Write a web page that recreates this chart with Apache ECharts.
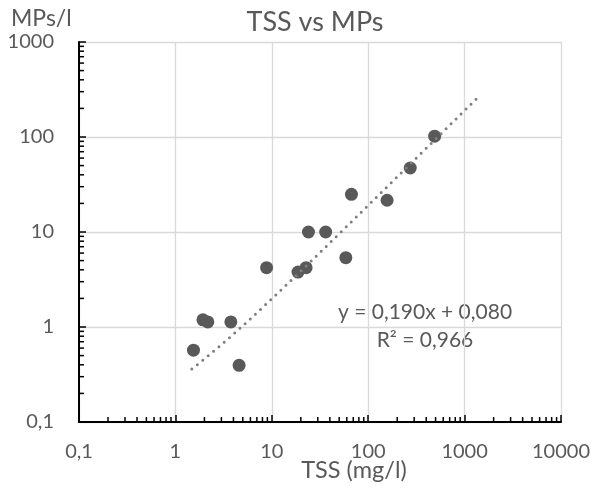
<!DOCTYPE html>
<html>
<head>
<meta charset="utf-8">
<script src="https://cdn.jsdelivr.net/npm/echarts@6/dist/echarts.min.js"></script>
<style>html,body{margin:0;padding:0;background:#fff}#c{width:593px;height:492px}</style>
</head>
<body>
<div id="c"></div>
<script>
// Data
const tss = [1.54, 1.93, 2.17, 3.76, 4.58, 8.83, 18.7, 22.7, 24.0, 36.2, 58.6, 67, 157, 273, 489];
const mps = [0.57, 1.19, 1.13, 1.13, 0.395, 4.21, 3.79, 4.21, 10, 10, 5.37, 24.9, 21.6, 47.2, 102];
// Linear trendline shown on the chart: y = 0,190x + 0,080 ; R² = 0,966
const trendSlope = 0.190;
const trendIntercept = 0.080;
const trendX = [1.48, 2, 3, 4, 5, 7, 10, 15, 20, 30, 50, 70, 100, 200, 300, 500, 700, 1000, 1450];
const xTickLabels = ['0,1', '1', '10', '100', '1000', '10000'];
const yTickLabels = ['0,1', '1', '10', '100', '1000'];
const xMin = 0.1, xMax = 10000, yMin = 0.1, yMax = 1000;
const minorMult = [2, 3, 4, 5, 6, 7, 8, 9];

const scatterData = tss.map((x, i) => [x, mps[i]]);
const trendData = trendX.map(x => [x, trendSlope * x + trendIntercept]);

const xMinor = [];
for (let e = xMin; e < xMax * 0.99; e *= 10) minorMult.forEach(m => xMinor.push([+(m * e).toPrecision(6), yMin]));
const yMinor = [];
for (let e = yMin; e < yMax * 0.99; e *= 10) minorMult.forEach(m => yMinor.push([xMin, +(m * e).toPrecision(6)]));

const fmt = v => String(+Number(v).toPrecision(6)).replace('.', ',');
const FONT = 'Lato';
const GREY = '#595959';

const chart = echarts.init(document.getElementById('c'), null, {renderer: 'canvas'});
chart.setOption({
  animation: false,
  backgroundColor: '#fff',
  grid: {left: 79, right: 32, top: 42, bottom: 70, containLabel: false},
  xAxis: {
    type: 'log', logBase: 10, min: xMin, max: xMax,
    axisLine: {show: true, onZero: false, lineStyle: {color: '#000', width: 2}},
    axisTick: {show: true, inside: true, length: 7, lineStyle: {color: '#000', width: 1.5}},
    axisLabel: {color: GREY, fontFamily: FONT, fontSize: 20, margin: 20, formatter: fmt},
    splitLine: {show: true, lineStyle: {color: '#d9d9d9', width: 1.3}}
  },
  yAxis: {
    type: 'log', logBase: 10, min: yMin, max: yMax,
    axisLine: {show: true, onZero: false, lineStyle: {color: '#000', width: 2}},
    axisTick: {show: true, inside: true, length: 7, lineStyle: {color: '#000', width: 1.5}},
    axisLabel: {color: GREY, fontFamily: FONT, fontSize: 20, margin: 25, formatter: fmt},
    splitLine: {show: true, lineStyle: {color: '#d9d9d9', width: 1.3}}
  },
  graphic: [
    {type: 'text', style: {text: 'TSS vs MPs', x: 315, y: 22, align: 'center', verticalAlign: 'middle', fill: GREY, font: '27px ' + FONT}},
    {type: 'text', style: {text: 'MPs/l', x: 11, y: 19, align: 'left', verticalAlign: 'middle', fill: GREY, font: '23px ' + FONT}},
    {type: 'text', style: {text: 'TSS (mg/l)', x: 354, y: 470, align: 'center', verticalAlign: 'middle', fill: GREY, font: '23.5px ' + FONT}},
    {type: 'text', style: {text: 'y = 0,190x + 0,080', x: 425, y: 312, align: 'center', verticalAlign: 'middle', fill: GREY, font: '21px ' + FONT}},
    {type: 'text', style: {text: 'R² = 0,966', x: 425, y: 340, align: 'center', verticalAlign: 'middle', fill: GREY, font: '21px ' + FONT}}
  ],
  series: [
    {
      type: 'custom', silent: true, data: xMinor, z: 5,
      renderItem: (params, api) => {
        const p = api.coord([api.value(0), api.value(1)]);
        return {type: 'line', shape: {x1: p[0], y1: p[1], x2: p[0], y2: p[1] - 5}, style: {stroke: '#000', lineWidth: 1.5}};
      }
    },
    {
      type: 'custom', silent: true, data: yMinor, z: 5,
      renderItem: (params, api) => {
        const p = api.coord([api.value(0), api.value(1)]);
        return {type: 'line', shape: {x1: p[0], y1: p[1], x2: p[0] + 5, y2: p[1]}, style: {stroke: '#000', lineWidth: 1.5}};
      }
    },
    {
      type: 'scatter', data: scatterData, symbol: 'circle', symbolSize: 13,
      itemStyle: {color: GREY, opacity: 1}
    },
    {
      type: 'line', data: trendData, showSymbol: false, symbol: 'none', smooth: false,
      lineStyle: {color: '#7f7f7f', width: 3, type: [0, 7], cap: 'round'}
    }
  ]
});
</script>
</body>
</html>
